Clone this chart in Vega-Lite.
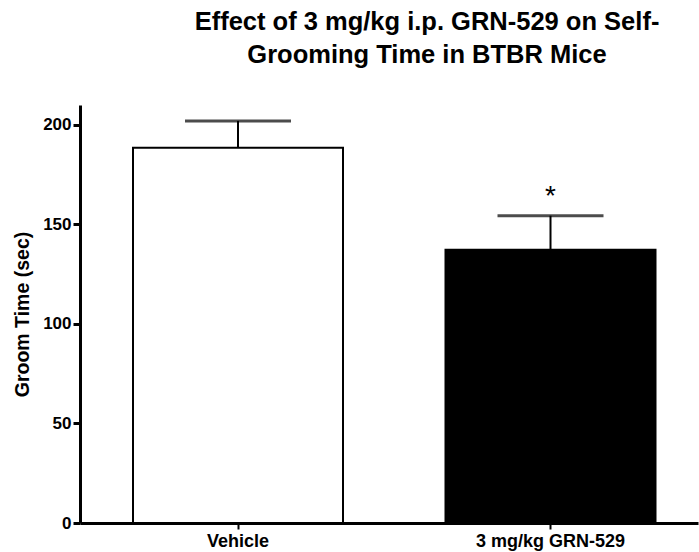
{
  "$schema": "https://vega.github.io/schema/vega-lite/v6.json",
  "width": 618,
  "height": 418,
  "autosize": {"type": "none"},
  "padding": {"left": 80, "top": 105, "right": 1, "bottom": 29},
  "background": "white",
  "config": {
    "view": {"stroke": null},
    "font": "Liberation Sans"
  },
  "title": {
    "text": ["Effect of 3 mg/kg i.p. GRN-529 on Self-", "Grooming Time in BTBR Mice\u00a0\u00a0\u00a0\u00a0\u00a0"],
    "font": "Liberation Sans",
    "fontSize": 25.5,
    "fontWeight": "bold",
    "color": "black",
    "anchor": "middle",
    "frame": "group",
    "dx": 38,
    "lineHeight": 33,
    "offset": 37
  },
  "data": {
    "values": [
      {"group": "Vehicle", "mean": 188.5, "upper": 202, "star": null, "starY": null},
      {"group": "3 mg/kg GRN-529", "mean": 137.3, "upper": 154.4, "star": "*", "starY": 160}
    ]
  },
  "encoding": {
    "x": {
      "field": "group",
      "type": "nominal",
      "sort": ["Vehicle", "3 mg/kg GRN-529"],
      "scale": {"paddingInner": 0.328, "paddingOuter": 0.1528, "align": 0.555},
      "axis": {
        "title": null,
        "labelAngle": 0,
        "labelFont": "Liberation Sans",
        "labelFontSize": 18,
        "labelFontWeight": "bold",
        "labelColor": "black",
        "labelPadding": 3,
        "domainColor": "black",
        "domainWidth": 3,
        "tickColor": "black",
        "tickWidth": 2,
        "tickSize": 6
      }
    }
  },
  "layer": [
    {
      "mark": {"type": "bar", "stroke": "black", "strokeWidth": 2},
      "encoding": {
        "y": {
          "field": "mean",
          "type": "quantitative",
          "scale": {"domain": [0, 210], "nice": false},
          "axis": {
            "title": "Groom Time (sec)",
            "values": [0, 50, 100, 150, 200],
            "grid": false,
            "labelFont": "Liberation Sans",
            "labelFontSize": 17,
            "labelFontWeight": "bold",
            "labelColor": "black",
            "labelPadding": 2,
            "domainColor": "black",
            "domainWidth": 3,
            "tickColor": "black",
            "tickWidth": 3,
            "tickSize": 7,
            "titleFont": "Liberation Sans",
            "titleFontSize": 19.5,
            "titleFontWeight": "bold",
            "titleColor": "black",
            "titleX": -58,
            "titleY": 209,
            "titleAngle": -90,
            "titleAlign": "center",
            "titleBaseline": "middle"
          }
        },
        "fill": {
          "field": "group",
          "type": "nominal",
          "scale": {"domain": ["Vehicle", "3 mg/kg GRN-529"], "range": ["white", "black"]},
          "legend": null
        }
      }
    },
    {
      "mark": {"type": "rule", "color": "black", "strokeWidth": 2},
      "encoding": {
        "y": {"field": "mean", "type": "quantitative"},
        "y2": {"field": "upper"}
      }
    },
    {
      "mark": {"type": "tick", "color": "black", "thickness": 3, "size": 106},
      "encoding": {
        "y": {"field": "upper", "type": "quantitative"}
      }
    },
    {
      "mark": {"type": "text", "font": "Liberation Sans", "fontSize": 28, "baseline": "alphabetic", "color": "black"},
      "encoding": {
        "y": {"field": "starY", "type": "quantitative"},
        "text": {"field": "star"}
      }
    }
  ]
}
